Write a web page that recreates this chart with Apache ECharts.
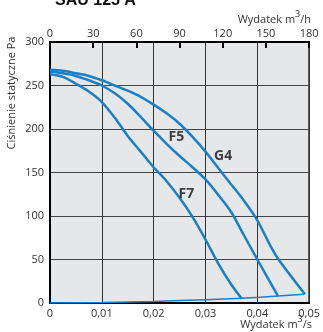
<!DOCTYPE html>
<html>
<head>
<meta charset="utf-8">
<script src="https://cdn.jsdelivr.net/npm/echarts@6/dist/echarts.min.js"></script>
<style>html,body{margin:0;padding:0;background:#fff}#c{width:323px;height:332px}</style>
</head>
<body>
<div id="c"></div>
<script>
const title = 'SAU 125 A';
const bottomTicks = [0, 0.01, 0.02, 0.03, 0.04, 0.05];
const topTicks = [0, 30, 60, 90, 120, 150, 180];
const leftTicks = [0, 50, 100, 150, 200, 250, 300];
const g4 = [[0,268],[0.0025,267],[0.005,264],[0.0075,261],[0.01,256],[0.0125,250],[0.015,244],[0.0175,237],[0.02,228],[0.0225,218],[0.025,206],[0.0275,191],[0.03,174],[0.0325,155],[0.035,136],[0.0375,117],[0.04,95],[0.0425,66],[0.0441,50],[0.0492,10]];
const f5 = [[0,266],[0.0025,264],[0.005,261],[0.0075,256],[0.01,250],[0.0125,241],[0.015,229],[0.0175,214],[0.02,198],[0.0225,183],[0.025,169],[0.0275,156],[0.03,142],[0.0325,124],[0.035,104],[0.0375,77],[0.04,50],[0.044,8]];
const f7 = [[0,263],[0.0025,260],[0.005,252],[0.0075,243],[0.01,231],[0.0125,213],[0.015,192],[0.0175,174],[0.02,156],[0.0225,140],[0.025,121],[0.0275,99],[0.03,73],[0.0325,45],[0.035,21],[0.037,5]];
const systemCurve = [[0,0],[0.01,0.5],[0.02,1.8],[0.03,3.8],[0.037,5.5],[0.044,8],[0.049,10]];
const curveLabels = [{name:'F5', value:[0.0244,191]}, {name:'G4', value:[0.0334,169]}, {name:'F7', value:[0.0263,125]}];

const blue = '#1a80c6';
const font = 'Open Sans';
const chart = echarts.init(document.getElementById('c'), null, {renderer:'canvas'});
function lineSeries(d, w){ return {type:'line', data:d, xAxisIndex:0, yAxisIndex:0, smooth:0.3, symbol:'none', lineStyle:{color:blue, width:w}, z:3}; }
chart.setOption({
  animation:false,
  title:{text:title, left:50, top:-12, textStyle:{fontFamily:'Liberation Sans', fontWeight:'bold', fontSize:16, color:'#111'}},
  grid:{left:50, right:11, top:42, bottom:29, show:true, backgroundColor:'#e6e7e9', borderColor:'#000', borderWidth:1.5},
  xAxis:[
    {type:'value', position:'bottom', min:0, max:0.05, interval:0.01,
     axisLine:{show:true, onZero:false, lineStyle:{color:'#000', width:2}},
     axisTick:{show:false},
     axisLabel:{color:'#333', fontSize:11, fontFamily:font, margin:5, formatter:v=>bottomTicks.includes(+v.toFixed(2)) ? String(+v.toFixed(2)).replace('.', ',') : ''},
     splitLine:{show:true, lineStyle:{color:'#333', width:1}}},
    {type:'value', position:'top', min:0, max:180, interval:30,
     axisLine:{show:true, onZero:false, lineStyle:{color:'#000', width:2}},
     axisTick:{show:true, inside:true, length:6, lineStyle:{color:'#000', width:2}},
     axisLabel:{color:'#333', fontSize:11, fontFamily:font, margin:3, formatter:v=>topTicks.includes(v)?String(v):''},
     splitLine:{show:false}}
  ],
  yAxis:[{type:'value', min:0, max:300, interval:50,
     axisLine:{show:true, lineStyle:{color:'#000', width:2}},
     axisTick:{show:false},
     axisLabel:{color:'#333', fontSize:11, fontFamily:font, margin:6, formatter:v=>leftTicks.includes(v)?String(v):''},
     splitLine:{show:true, lineStyle:{color:'#444', width:1}}}],
  graphic:[
    {type:'text', x:12, y:93, rotation:Math.PI/2, style:{text:'Ciśnienie statyczne Pa', fontFamily:font, fontSize:11, fill:'#333', align:'center', verticalAlign:'middle'}},
    {type:'text', right:12, top:10, style:{text:'{a|Wydatek m}{s|3}{a|/h}', fontFamily:font, fill:'#333', rich:{a:{fontSize:11, fontFamily:font, color:'#333', padding:[6,0,0,0]}, s:{fontSize:9, fontFamily:font, color:'#333', padding:[0,0,4,0]}}}},
    {type:'text', right:11, top:315, style:{text:'{a|Wydatek m}{s|3}{a|/s}', fontFamily:font, fill:'#333', rich:{a:{fontSize:11, fontFamily:font, color:'#333', padding:[6,0,0,0]}, s:{fontSize:9, fontFamily:font, color:'#333', padding:[0,0,4,0]}}}}
  ],
  series:[
    lineSeries(g4, 2.5), lineSeries(f5, 2.5), lineSeries(f7, 2.5),
    {type:'line', data:systemCurve, smooth:0.3, symbol:'none', lineStyle:{color:blue, width:1.5}, z:3},
    {type:'scatter', data:curveLabels, symbolSize:0, z:5,
     label:{show:true, position:'inside', formatter:p=>p.name, fontFamily:font, fontWeight:'bold', fontSize:14, color:'#111'}}
  ]
});
</script>
</body>
</html>
